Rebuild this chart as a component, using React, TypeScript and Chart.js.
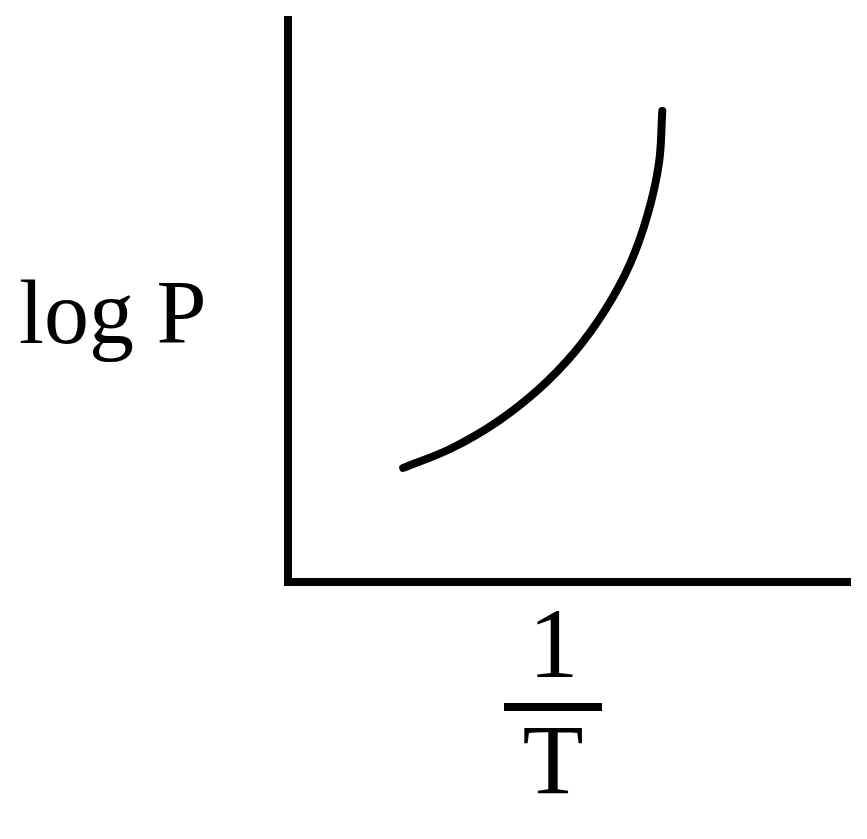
import React, { useEffect, useRef } from "react";
import { Chart, registerables } from "chart.js";

Chart.register(...registerables);

// Curve (scale units, axes 0..10)
const curveX = [2.05, 2.91, 3.72, 4.45, 5.1, 5.65, 6.09, 6.4, 6.6, 6.66];
const curveY = [2.03, 2.38, 2.85, 3.42, 4.09, 4.85, 5.67, 6.54, 7.45, 8.38];

const yLabel = "log P";
const xNumerator = "1";
const xDenominator = "T";

const SERIF = '"Liberation Serif", "Times New Roman", Times, serif';

const labelPlugin = {
  id: "schematicLabels",
  afterDraw(chart: any) {
    const ctx = chart.ctx as CanvasRenderingContext2D;
    const area = chart.chartArea;
    const cx = (area.left + area.right) / 2 - 16;
    ctx.save();
    ctx.fillStyle = "#000";
    ctx.textBaseline = "alphabetic";
    ctx.font = "90px " + SERIF;
    ctx.textAlign = "left";
    ctx.fillText(yLabel, 19, 343);
    ctx.font = "100px " + SERIF;
    ctx.textAlign = "center";
    ctx.fillText(xNumerator, cx + 0.5, 677);
    ctx.fillRect(cx - 49, 703, 98, 8);
    ctx.fillText(xDenominator, cx, 793);
    ctx.restore();
  },
};

export default function App() {
  const ref = useRef<HTMLCanvasElement>(null);
  useEffect(() => {
    if (!ref.current) return;
    const chart = new Chart(ref.current, {
      type: "line",
      data: {
        datasets: [
          {
            data: curveX.map((x, i) => ({ x, y: curveY[i] })),
            borderColor: "#000",
            borderWidth: 8,
            borderCapStyle: "round",
            borderJoinStyle: "round",
            pointRadius: 0,
            tension: 0.4,
            fill: false,
          },
        ],
      },
      options: {
        responsive: false,
        animation: false,
        layout: { padding: { left: 288, top: 20, right: 17, bottom: 257 } },
        plugins: { legend: { display: false }, tooltip: { enabled: false } },
        scales: {
          x: {
            type: "linear",
            min: 0,
            max: 10,
            grid: { display: false, drawTicks: false },
            ticks: { display: false },
            border: { display: true, color: "#000", width: 8 },
          },
          y: {
            type: "linear",
            min: 0,
            max: 10,
            grid: { display: false, drawTicks: false },
            ticks: { display: false },
            border: { display: true, color: "#000", width: 8 },
          },
        },
      },
      plugins: [labelPlugin],
    });
    let alive = true;
    if (document.fonts && document.fonts.load) {
      Promise.all([
        document.fonts.load('90px "Liberation Serif"'),
        document.fonts.load('100px "Liberation Serif"'),
      ])
        .then(() => {
          if (alive) chart.update();
        })
        .catch(() => {});
    }
    return () => {
      alive = false;
      chart.destroy();
    };
  }, []);
  return (
    <div style={{ position: "absolute", left: 0, top: 0, width: 867, height: 839, background: "#fff" }}>
      <canvas ref={ref} width={867} height={839} />
    </div>
  );
}
